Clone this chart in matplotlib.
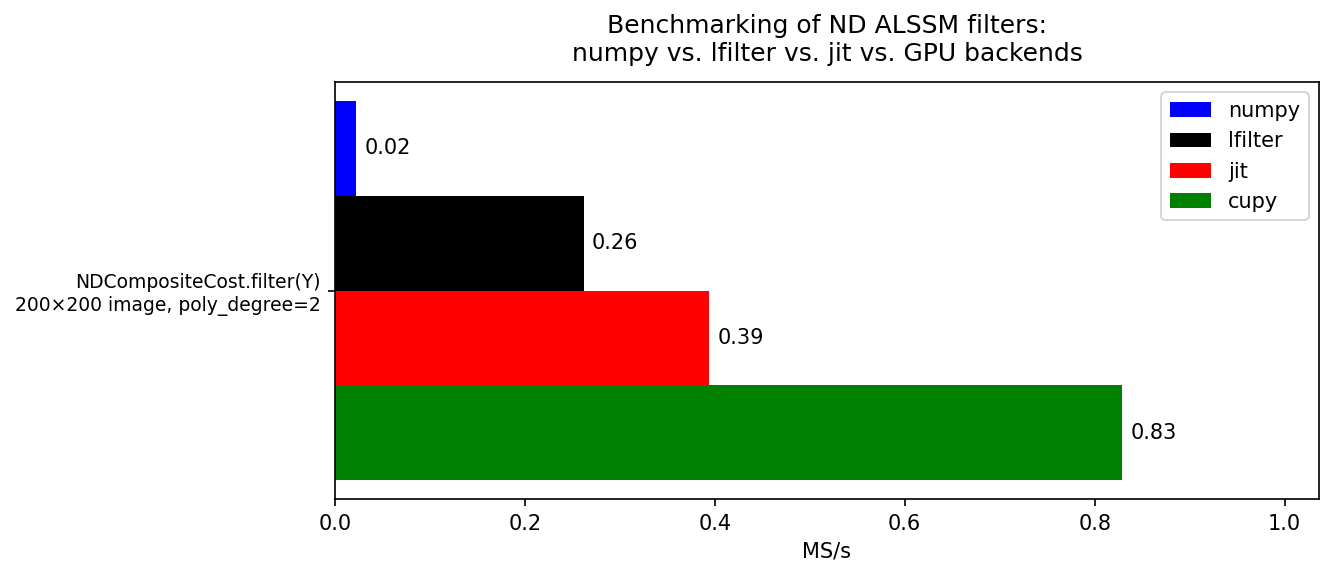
import matplotlib
matplotlib.use("Agg")
from matplotlib import pyplot as plt
import numpy as np

categories = ["NDCompositeCost.filter(Y)\n200\u00d7200 image, poly_degree=2"]
backends = ["numpy", "lfilter", "jit", "cupy"]
colors = ["blue", "black", "red", "green"]
speeds = [[0.022], [0.262], [0.394], [0.829]]

fig = plt.figure(figsize=(1333 / 150, 577 / 150), dpi=150)
ax = fig.add_axes([335 / 1333, 1 - 499 / 577, (1319 - 335) / 1333, (499 - 82) / 577])

y = np.arange(len(categories))
h = 0.2
for i, (name, col, vals) in enumerate(zip(backends, colors, speeds)):
    bars = ax.barh(y + (i - 1.5) * h, vals, height=h, color=col, label=name)
    ax.bar_label(bars, fmt="%.2f", padding=4, fontsize=10)

ax.set_yticks(y)
ax.set_yticklabels(categories, fontsize=9)
ax.invert_yaxis()
ax.set_xlim(0, max(max(v) for v in speeds) * 1.25)
ax.set_xlabel("MS/s")
ax.set_title("Benchmarking of ND ALSSM filters:\nnumpy vs. lfilter vs. jit vs. GPU backends", fontsize=12, pad=10)
ax.legend(loc="upper right")

fig.savefig("out.png", dpi=150)
